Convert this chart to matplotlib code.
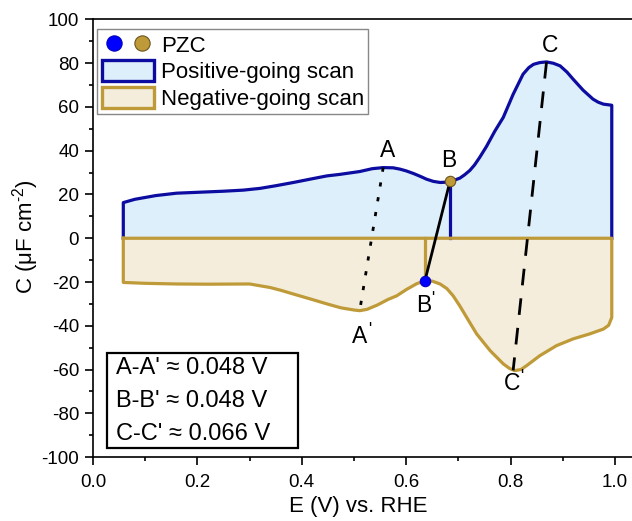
import matplotlib
matplotlib.use('Agg')
import matplotlib.pyplot as plt
from matplotlib.patches import Patch, Rectangle
from matplotlib.lines import Line2D
from matplotlib.legend_handler import HandlerTuple

plt.rcParams['font.family'] = ['Liberation Sans', 'DejaVu Sans']
plt.rcParams['mathtext.fontset'] = 'custom'
plt.rcParams['mathtext.rm'] = 'Liberation Sans'
plt.rcParams['mathtext.it'] = 'Liberation Sans:italic'

# ---- data ----
pos_x = [0.058, 0.08, 0.12, 0.16, 0.20, 0.25, 0.288, 0.32, 0.35, 0.384, 0.42,
         0.448, 0.473, 0.511, 0.535, 0.556, 0.575, 0.588, 0.60, 0.614, 0.627,
         0.639, 0.652, 0.665, 0.675, 0.684, 0.693, 0.703, 0.712, 0.722, 0.731,
         0.741, 0.754, 0.77, 0.786, 0.805, 0.824, 0.835, 0.844, 0.856, 0.869,
         0.882, 0.895, 0.908, 0.92, 0.939, 0.958, 0.968, 0.978, 0.994]
pos_y = [16.3, 17.8, 19.5, 20.6, 21.0, 21.5, 22.0, 22.8, 24.0, 25.5, 27.2,
         28.5, 29.2, 30.5, 31.8, 32.3, 32.2, 31.6, 30.8, 29.6, 28.3,
         27.0, 26.0, 25.5, 25.6, 26.0, 26.6, 27.5, 29.0, 31.0, 33.5,
         37.0, 42.0, 49.0, 55.2, 65.8, 75.0, 78.0, 79.5, 80.3, 80.6,
         80.0, 78.8, 76.0, 72.7, 67.7, 63.6, 62.2, 61.3, 60.8]

neg_x = [0.058, 0.10, 0.16, 0.22, 0.30, 0.339, 0.36, 0.384, 0.42, 0.448,
         0.475, 0.50, 0.511, 0.525, 0.545, 0.565, 0.582, 0.60, 0.62, 0.636,
         0.65, 0.665, 0.678, 0.69, 0.703, 0.716, 0.735, 0.761, 0.786, 0.798,
         0.808, 0.82, 0.831, 0.856, 0.888, 0.92, 0.952, 0.978, 0.988, 0.994]
neg_y = [-20.2, -20.6, -20.9, -21.0, -20.9, -22.5, -23.8, -25.5, -28.0, -30.0,
         -31.8, -32.8, -33.1, -32.5, -30.5, -28.0, -26.3, -23.5, -20.8, -19.4,
         -19.6, -20.9, -23.0, -26.3, -31.0, -36.2, -43.7, -51.4, -57.4, -59.5,
         -60.5, -60.0, -58.2, -53.7, -49.1, -46.0, -43.7, -41.5, -39.8, -36.2]

pzc_pos = (0.684, 26.0)   # B
pzc_neg = (0.636, -19.4)  # B'
peak_A = (0.556, 32.3)
peak_A2 = (0.511, -33.1)
peak_C = (0.869, 80.6)
peak_C2 = (0.805, -60.4)

point_labels = ['A', "A'", 'B', "B'", 'C', "C'"]
label_pos = [(0.565, 40.0), (0.511, -45.0), (0.681, 35.4), (0.633, -30.8),
             (0.875, 88.0), (0.803, -66.5)]

shift_lines = ["A-A' \u2248 0.048 V", "B-B' \u2248 0.048 V", "C-C' \u2248 0.066 V"]

xticks = [0.0, 0.2, 0.4, 0.6, 0.8, 1.0]
xtick_labels = ['0.0', '0.2', '0.4', '0.6', '0.8', '1.0']
yticks = [-100, -80, -60, -40, -20, 0, 20, 40, 60, 80, 100]
ytick_labels = ['-100', '-80', '-60', '-40', '-20', '0', '20', '40', '60', '80', '100']

legend_labels = ['PZC', 'Positive-going scan', 'Negative-going scan']

# ---- style ----
BLUE = '#0C0CA0'
BLUE_FILL = '#DDEFFB'
GOLD = '#BF9A38'
GOLD_FILL = '#F5EDDB'
LW = 2.3

fig = plt.figure(figsize=(6.32, 5.21), dpi=100)
ax = fig.add_axes([0.1472, 0.1228, 0.853, 0.8398])

ax.fill_between(pos_x, 0, pos_y, color=BLUE_FILL, lw=0, zorder=1)
ax.fill_between(neg_x, 0, neg_y, color=GOLD_FILL, lw=0, zorder=1)

ax.plot([pos_x[0]] + pos_x + [pos_x[-1]], [0] + pos_y + [0], color=BLUE, lw=LW,
        zorder=3, solid_joinstyle='round')
ax.plot([pzc_pos[0], pzc_pos[0]], [0, pzc_pos[1]], color=BLUE, lw=LW, zorder=3)

ax.plot([neg_x[0]] + neg_x + [neg_x[-1], neg_x[0]], [0] + neg_y + [0, 0],
        color=GOLD, lw=LW, zorder=4, solid_joinstyle='round')
ax.plot([pzc_neg[0], pzc_neg[0]], [0, pzc_neg[1]], color=GOLD, lw=LW, zorder=4)

# guide lines
ax.plot([peak_A[0], peak_A2[0]], [peak_A[1], peak_A2[1]], color='black', lw=2,
        linestyle=(0, (1.5, 3.9)), zorder=5)
ax.plot([pzc_pos[0], pzc_neg[0]], [pzc_pos[1], pzc_neg[1]], color='black', lw=2,
        zorder=5)
ax.plot([peak_C[0], peak_C2[0]], [peak_C[1], peak_C2[1]], color='black', lw=2,
        linestyle=(0, (6, 4.7)), zorder=5)

ax.plot([pzc_pos[0]], [pzc_pos[1]], 'o', ms=7.5, mfc=GOLD, mec='#6B5520', mew=0.8, zorder=6)
ax.plot([pzc_neg[0]], [pzc_neg[1]], 'o', ms=7.5, mfc='#0000FF', mec='#0000C0', mew=0.8, zorder=6)

for lab, (lx, ly) in zip(point_labels, label_pos):
    letter = lab[0]
    ax.text(lx, ly, letter, fontsize=16.5, ha='center', va='center', zorder=7)
    if len(lab) > 1:
        ax.annotate("'", xy=(lx, ly), xytext=(7.0, 5.0), textcoords='offset points',
                    fontsize=12, ha='center', va='center', zorder=7)

# text box
ax.add_patch(Rectangle((0.027, -96.0), 0.366, 43.7, facecolor='white',
                       edgecolor='black', lw=1.6, zorder=6))
for i, s in enumerate(shift_lines):
    ax.text(0.044, -59.3 - 15.1 * i, s, fontsize=17, ha='left', va='center', zorder=7)

# legend
h_pzc = (Line2D([], [], ls='none', marker='o', ms=11, mfc='#0000FF', mec='#0000C0', mew=0.8),
         Line2D([], [], ls='none', marker='o', ms=11, mfc=GOLD, mec='#6B5520', mew=0.8))
h_pos = Patch(facecolor=BLUE_FILL, edgecolor=BLUE, lw=2.4)
h_neg = Patch(facecolor=GOLD_FILL, edgecolor=GOLD, lw=2.4)
leg = ax.legend([h_pzc, h_pos, h_neg], legend_labels,
                handler_map={tuple: HandlerTuple(ndivide=None, pad=0.1)},
                loc='upper left', bbox_to_anchor=(0.008, 0.978), borderaxespad=0,
                fontsize=16, frameon=True, fancybox=False, framealpha=1,
                edgecolor='#888888', handlelength=2.35, handleheight=1.1,
                handletextpad=0.3, labelspacing=0.15, borderpad=0.2)
leg.get_frame().set_linewidth(1.0)
leg.set_zorder(8)

# axes
ax.set_xlim(0, 1.033)
ax.set_ylim(-100, 100)
ax.set_xticks(xticks)
ax.set_xticklabels(xtick_labels)
ax.set_xticks([0.1, 0.3, 0.5, 0.7, 0.9], minor=True)
ax.set_yticks(yticks)
ax.set_yticklabels(ytick_labels)
ax.set_yticks([-90, -70, -50, -30, -10, 10, 30, 50, 70, 90], minor=True)
ax.tick_params(which='major', direction='out', length=6, width=1.2, labelsize=13.5, pad=4)
ax.tick_params(which='minor', direction='out', length=3, width=1.2)
ax.tick_params(axis='x', which='major', pad=6)
ax.spines['right'].set_visible(False)
for sp in ['left', 'bottom', 'top']:
    ax.spines[sp].set_linewidth(1.2)

ax.set_xlabel('E (V) vs. RHE', fontsize=16)
ax.set_ylabel('C (\u03bcF cm$^{\u20102}$)', fontsize=16)
ax.xaxis.set_label_coords(0.492, -0.088)
ax.yaxis.set_label_coords(-0.097, 0.503)

fig.savefig('out.png', dpi=100)
